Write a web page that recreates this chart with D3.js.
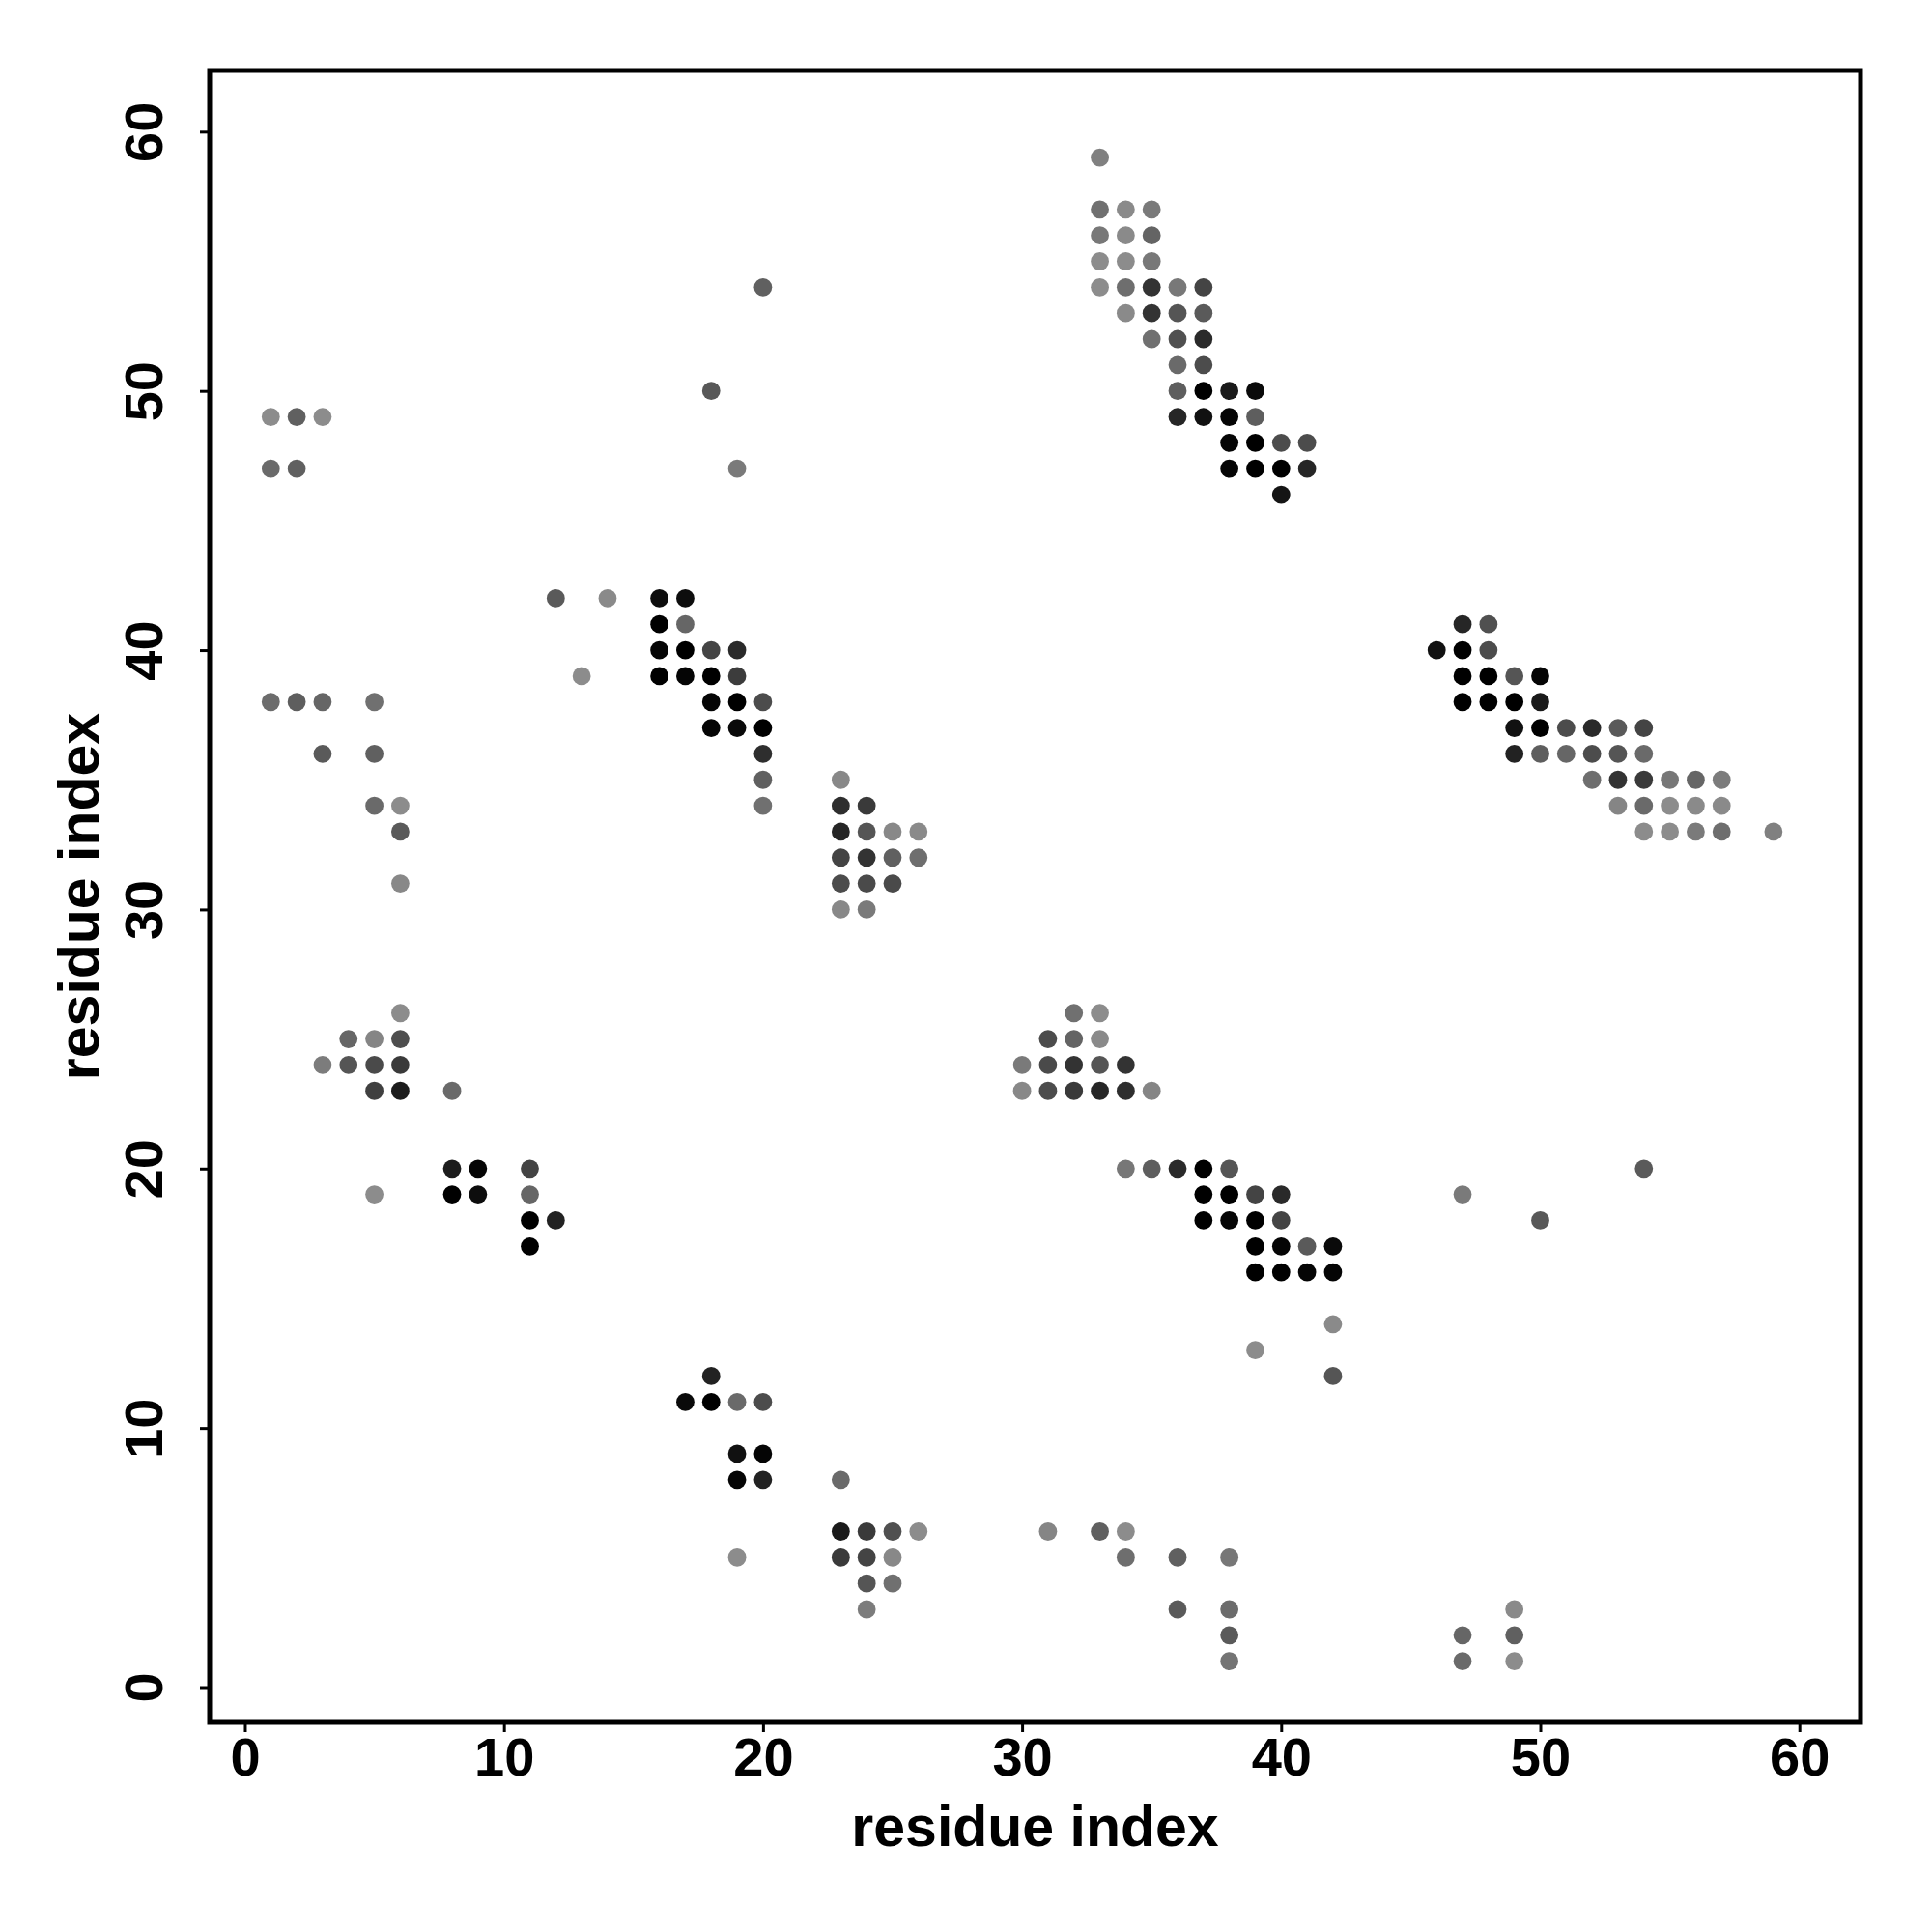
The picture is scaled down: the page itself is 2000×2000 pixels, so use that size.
<!DOCTYPE html>
<html>
<head>
<meta charset="utf-8">
<script src="https://cdn.jsdelivr.net/npm/d3@7"></script>
<style>
  html, body { margin: 0; padding: 0; background: #ffffff; }
  svg { display: block; }
  text { font-family: "Liberation Sans", Arial, Helvetica, sans-serif; font-weight: bold; fill: #000; }
</style>
</head>
<body>
<svg id="chart" width="2000" height="2000"></svg>
<script>
// ---- data: one entry per row (y residue), residues on x and a score (0 = darkest, 140 = lightest) ----
const rowIndex = [59,57,56,55,54,53,52,51,50,49,48,47,46,42,41,40,39,38,37,36,35,34,33,32,31,30,26,25,24,23,20,19,18,17,16,14,13,12,11,9,8,6,5,4,3,2,1];
const rowResidues = [
  [33],
  [33,34,35],
  [33,34,35],
  [33,34,35],
  [20,33,34,35,36,37],
  [34,35,36,37],
  [35,36,37],
  [36,37],
  [18,36,37,38,39],
  [1,2,3,36,37,38,39],
  [38,39,40,41],
  [1,2,19,38,39,40,41],
  [40],
  [12,14,16,17],
  [16,17,47,48],
  [16,17,18,19,46,47,48],
  [13,16,17,18,19,47,48,49,50],
  [1,2,3,5,18,19,20,47,48,49,50],
  [18,19,20,49,50,51,52,53,54],
  [3,5,20,49,50,51,52,53,54],
  [20,23,52,53,54,55,56,57],
  [5,6,20,23,24,53,54,55,56,57],
  [6,23,24,25,26,54,55,56,57,59],
  [23,24,25,26],
  [6,23,24,25],
  [23,24],
  [6,32,33],
  [4,5,6,31,32,33],
  [3,4,5,6,30,31,32,33,34],
  [5,6,8,30,31,32,33,34,35],
  [8,9,11,34,35,36,37,38,54],
  [5,8,9,11,37,38,39,40,47],
  [11,12,37,38,39,40,50],
  [11,39,40,41,42],
  [39,40,41,42],
  [42],
  [39],
  [18,42],
  [17,18,19,20],
  [19,20],
  [19,20,23],
  [23,24,25,26,31,33,34],
  [19,23,24,25,34,36,38],
  [24,25],
  [24,36,38,49],
  [38,47,49],
  [38,47,49]
];
const rowScores = [
  [128],
  [112,138,122],
  [120,138,100],
  [140,140,120],
  [96,140,110,51,120,68],
  [138,51,85,90],
  [112,80,42],
  [106,76],
  [88,94,0,26,10],
  [140,96,140,38,17,5,94],
  [5,0,76,76],
  [106,96,122,5,0,0,38],
  [21],
  [90,138,13,13],
  [0,102,38,80],
  [5,0,68,42,17,0,76],
  [140,0,5,0,60,0,0,85,5],
  [108,94,102,112,5,0,76,0,0,0,26],
  [5,10,0,17,0,76,42,90,68],
  [90,96,46,34,94,102,76,85,106],
  [96,136,110,51,58,119,102,124],
  [106,140,112,46,58,133,106,140,138,138],
  [90,38,85,136,138,140,140,122,110,128],
  [68,51,96,110],
  [136,76,74,74],
  [136,122],
  [140,112,140],
  [102,133,78,76,100,138],
  [124,85,74,58,122,74,51,85,51],
  [64,28,106,136,76,58,38,46,133],
  [28,5,68,119,94,42,0,85,90],
  [140,0,13,102,0,0,68,42,122],
  [0,34,0,5,0,68,88],
  [0,0,5,90,10],
  [0,0,5,5],
  [138],
  [140],
  [34,85],
  [10,0,106,76],
  [17,5],
  [5,34,106],
  [26,58,80,140,133,96,140],
  [140,58,68,136,110,96,119],
  [85,112],
  [124,90,108,138],
  [90,102,96],
  [116,106,140]
];
const xTicks = [0,10,20,30,40,50,60];
const yTicks = [0,10,20,30,40,50,60];
const xLabel = "residue index";
const yLabel = "residue index";

(function () {
  // ---- build points ----
  const points = [];
  rowIndex.forEach((y, i) => {
    rowResidues[i].forEach((x, j) => points.push({x: x, y: y, s: rowScores[i][j]}));
  });

  // ---- layout ----
  const pLeft = 217, pRight = 1926, pTop = 73, pBottom = 1783;
  const dom = [1 - 0.04 * 59, 60 + 0.04 * 59];
  const xScale = d3.scaleLinear().domain(dom).range([pLeft, pRight]);
  const yScale = d3.scaleLinear().domain(dom).range([pBottom, pTop]);
  const color = d3.scaleLinear().domain([0, 140]).range(["#000000", "#8c8c8c"]);

  const svg = d3.select("#chart");
  svg.append("rect").attr("x", 0).attr("y", 0).attr("width", 2000).attr("height", 2000).attr("fill", "#fff");

  // points
  svg.append("g").selectAll("circle").data(points).join("circle")
    .attr("cx", d => xScale(d.x))
    .attr("cy", d => yScale(d.y))
    .attr("r", 9.4)
    .attr("fill", d => color(d.s));

  // axes
  const tickFont = 56;
  const xAxis = svg.append("g").attr("transform", `translate(0,${pBottom})`)
    .call(d3.axisBottom(xScale).tickValues(xTicks).tickSize(10).tickFormat(d3.format("d")));
  xAxis.select(".domain").remove();
  xAxis.selectAll(".tick line").attr("stroke", "#000").attr("stroke-width", 3);
  xAxis.selectAll(".tick text").attr("y", 55).attr("dy", null)
    .style("font-size", tickFont + "px").style("font-weight", "bold")
    .style("font-family", "'Liberation Sans', Arial, sans-serif").attr("fill", "#000");

  const yAxis = svg.append("g").attr("transform", `translate(${pLeft},0)`)
    .call(d3.axisLeft(yScale).tickValues(yTicks).tickSize(10).tickFormat(d3.format("d")));
  yAxis.select(".domain").remove();
  yAxis.selectAll(".tick line").attr("stroke", "#000").attr("stroke-width", 3);
  yAxis.selectAll(".tick text")
    .attr("x", null).attr("dy", null).attr("y", null)
    .attr("transform", `translate(${168 - pLeft},0) rotate(-90)`)
    .attr("text-anchor", "middle")
    .style("font-size", tickFont + "px").style("font-weight", "bold")
    .style("font-family", "'Liberation Sans', Arial, sans-serif").attr("fill", "#000");

  // frame
  svg.append("rect").attr("x", pLeft).attr("y", pTop)
    .attr("width", pRight - pLeft).attr("height", pBottom - pTop)
    .attr("fill", "none").attr("stroke", "#000").attr("stroke-width", 5);

  // axis titles
  svg.append("text").attr("x", (pLeft + pRight) / 2).attr("y", 1911)
    .attr("text-anchor", "middle").style("font-size", "59px").text(xLabel);
  svg.append("text").attr("transform", `translate(102,${(pTop + pBottom) / 2}) rotate(-90)`)
    .attr("text-anchor", "middle").style("font-size", "59px").text(yLabel);
})();
</script>
</body>
</html>
